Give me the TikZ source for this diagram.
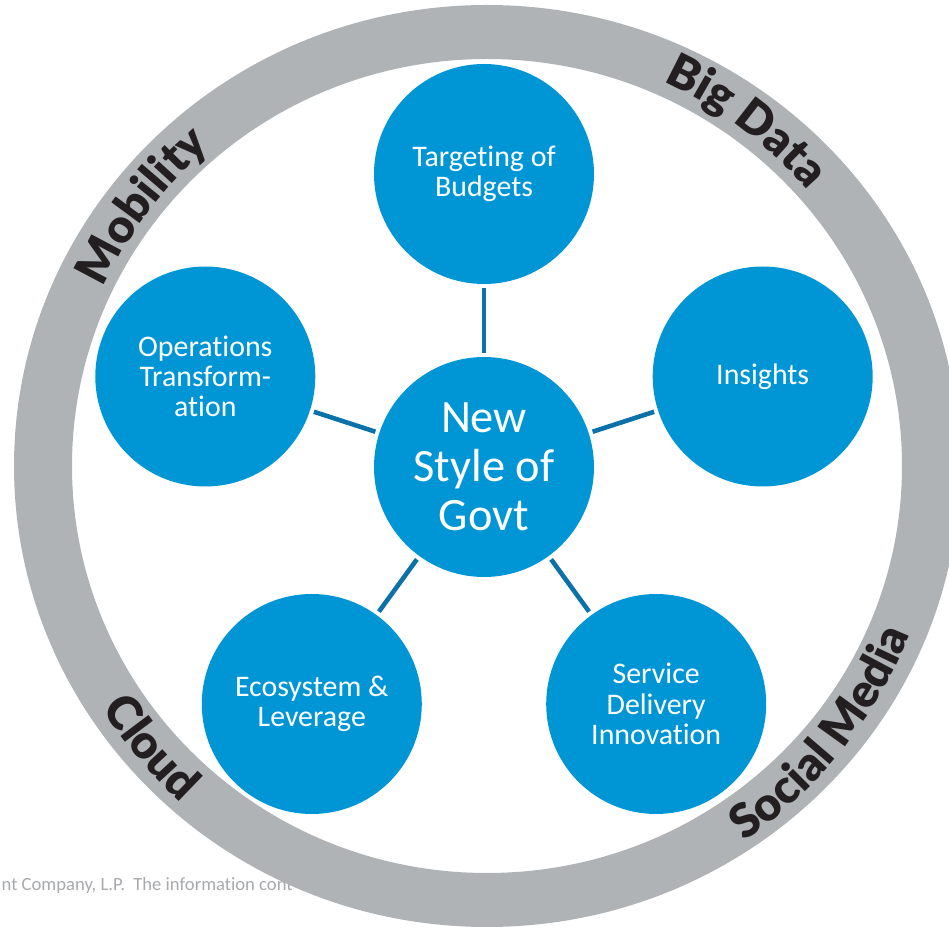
\documentclass[tikz,border=0pt]{standalone}
\usepackage{fontspec}
\setmainfont{Carlito}[Ligatures=NoCommon]
\newfontfamily\ringfont{Lato Black}
\usetikzlibrary{decorations.text}

\definecolor{hpblue}{RGB}{0,150,214}
\definecolor{linkblue}{RGB}{10,114,168}
\definecolor{ringgray}{RGB}{175,179,181}
\definecolor{labelblack}{RGB}{35,31,32}
\definecolor{notegray}{RGB}{167,169,172}

\begin{document}
\begin{tikzpicture}%
	[bubble/.style={circle,fill=hpblue,text=white,minimum size=2.2cm,inner sep=0pt,align=center,font=\fontsize{8.5}{8.6}\selectfont},
	hub/.style={bubble,font=\fontsize{13.2}{14}\selectfont},
	link/.style={color=linkblue,line width=1.3pt,shorten <=1pt,shorten >=1pt},
	ring/.style={fill=ringgray,even odd rule},
	ringtext/.style={decorate,decoration={text along path,text align=center,
		text={|\ringfont\fontsize{13.3}{13.3}\selectfont\color{labelblack}|#1}}},
	note/.style={text=notegray,inner sep=0pt,font=\fontsize{5.3}{5.3}\selectfont}]
%
\clip (0,0) rectangle (9.49,9.29);
\useasboundingbox (0,0) rectangle (9.49,9.29);
%
%% Footer line, partly under the ring
%%
\node[note,anchor=base west] (copyright) at (0.01,0.38) {nt Company, L.P.\ \ The information cont};
%%
%%
%% The outer ring and its labels
%%
\coordinate (ringc) at (4.87,4.63);
\fill[ring] (ringc) ellipse [x radius=4.73,y radius=4.61]
	(ringc) ellipse [x radius=4.15,y radius=4.07];
\path[ringtext=Mobility] (ringc) ++(173:4.23) arc[start angle=173,end angle=113,radius=4.23];
\path[ringtext=Big Data] (ringc) ++(83:4.23) arc[start angle=83,end angle=23,radius=4.23];
\path[ringtext=Social Media] (ringc) ++(-78.6:4.55) arc[start angle=-78.6,end angle=1.4,radius=4.55];
\path[ringtext=Cloud] (ringc) ++(190:4.55) arc[start angle=190,end angle=250,radius=4.55];
%%
%%
%% The bubbles
%%
\node[hub] (govt) at (4.84,4.62) {New\\Style of\\Govt};
\node[bubble] (budgets) at (4.84,7.55) {Targeting of\\Budgets};
\node[bubble] (insights) at (7.627,5.525) {Insights};
\node[bubble] (service) at (6.562,2.250) {Service\\Delivery\\Innovation};
\node[bubble] (ecosystem) at (3.118,2.250) {Ecosystem \&\\Leverage};
\node[bubble] (operations) at (2.053,5.525) {Operations\\Transform-\\ation};
%%
%%
%% Drawing the spokes
%%
\draw[link] (govt) -- (budgets);
\draw[link] (govt) -- (insights);
\draw[link] (govt) -- (service);
\draw[link] (govt) -- (ecosystem);
\draw[link] (govt) -- (operations);
%%
%%
\end{tikzpicture}
\end{document}
